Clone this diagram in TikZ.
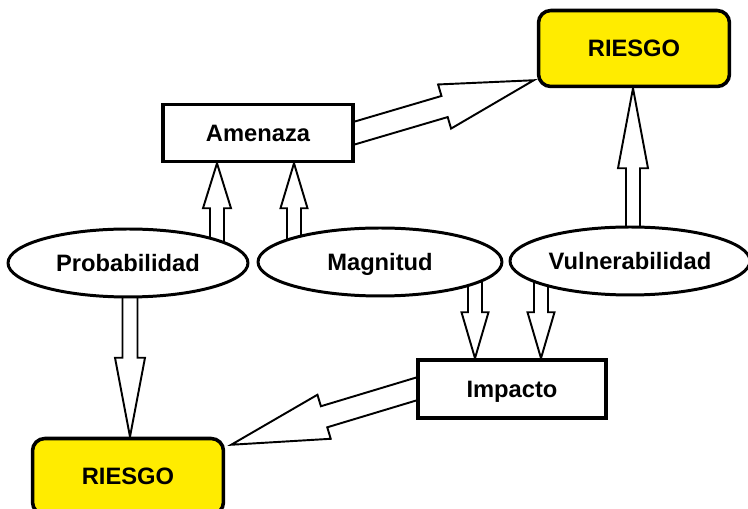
\documentclass[tikz,border=0pt]{standalone}
\usepackage{fontspec}
\setmainfont{Liberation Sans}
\usetikzlibrary{calc,backgrounds,shapes.geometric}

\definecolor{riesgoyellow}{RGB}{255,236,0}

\tikzset{
  box/.style={rectangle,draw,line width=2pt,fill=white,text height=10pt,text depth=0.5pt,font=\bfseries\fontsize{13.5pt}{16pt}\selectfont},
  riskbox/.style={box,rounded corners=7pt,fill=riesgoyellow,minimum width=3.82cm,minimum height=1.52cm},
  factor/.style={ellipse,draw,line width=1.7pt,fill=white,inner sep=0pt,minimum height=1.36cm,text height=10pt,text depth=0.5pt,font=\bfseries\fontsize{13.5pt}{16pt}\selectfont},
  hollow/.style={draw,line width=1.1pt,fill=white,line join=miter}
}

% hollow block arrow: from, to, shaft half width, head half width, head length (px)
\newcommand{\hollowarrow}[5]{%
  \coordinate (hb) at ($(#2)!#5*0.569pt!(#1)$);
  \draw[hollow] ($(#1)!#3*0.569pt!90:(#2)$) -- ($(hb)!#3*0.569pt!90:(#2)$) -- ($(hb)!#4*0.569pt!90:(#2)$) -- (#2) -- ($(hb)!#4*0.569pt!-90:(#2)$) -- ($(hb)!#3*0.569pt!-90:(#2)$) -- ($(#1)!#3*0.569pt!-90:(#2)$);
}

\begin{document}
\begin{tikzpicture}[x=0.02cm,y=-0.02cm]

    \useasboundingbox (0,0) rectangle (748,509);

    %%%%%%%%%%%%%%%%%%%%%%%%%%%%%%%%%%%%%%%%%%%%%%%%%%%%%%

    % risk (top)
    \node[riskbox] (riesgoT) at (634,48.5) {RIESGO};

    % threat
    \node[box,minimum width=3.8cm,minimum height=1.14cm] (amenaza) at (258,133) {Amenaza};

    %%%%%%%%%%%%%%%%%%%%%%%%%%%%%%%%%%%%%%%%%%%%%%%%%%%%%%

    % factors
    \node[factor,minimum width=4.8cm] (prob) at (128,263) {Probabilidad};
    \node[factor,minimum width=4.88cm] (magn) at (380,262) {Magnitud};
    \node[factor,minimum width=4.8cm] (vuln) at (630,261) {Vulnerabilidad};

    %%%%%%%%%%%%%%%%%%%%%%%%%%%%%%%%%%%%%%%%%%%%%%%%%%%%%%

    % impact
    \node[box,minimum width=3.76cm,minimum height=1.16cm] (impacto) at (512,389) {Impacto};

    % risk (bottom)
    \node[riskbox] (riesgoB) at (128,476.5) {RIESGO};

    %%%%%%%%%%%%%%%%%%%%%%%%%%%%%%%%%%%%%%%%%%%%%%%%%%%%%%

    % arrow ends
    \coordinate (probA) at ($(prob.center)+(89,0)$);
    \coordinate (probA-tip) at (amenaza.south -| probA);
    \coordinate (magnA) at ($(magn.center)+(-86,0)$);
    \coordinate (magnA-tip) at (amenaza.south -| magnA);
    \coordinate (probR) at ($(prob.center)+(2,0)$);
    \coordinate (probR-tip) at (riesgoB.north -| probR);
    \coordinate (magnI) at ($(magn.center)+(95,0)$);
    \coordinate (magnI-tip) at (impacto.north -| magnI);
    \coordinate (vulnI) at ($(vuln.center)+(-89,0)$);
    \coordinate (vulnI-tip) at (impacto.north -| vulnI);
    \coordinate (vulnR) at ($(vuln.center)+(3,0)$);
    \coordinate (vulnR-tip) at (riesgoT.south -| vulnR);
    \coordinate (amenR-tip) at ($(riesgoT.south west)+(-3,-8)$);
    \coordinate (amenR) at ($(amenaza.east)!-0.05!(amenR-tip)$);
    \coordinate (impR-tip) at ($(riesgoB.north east)+(6,8)$);
    \coordinate (impR) at ($(impacto.west)!-0.05!(impR-tip)$);

    %%%%%%%%%%%%%%%%%%%%%%%%%%%%%%%%%%%%%%%%%%%%%%%%%%%%%%

    \begin{scope}[on background layer]
    % threat to risk
    \hollowarrow{amenR}{amenR-tip}{11}{23}{93}
    % probability and magnitude to threat
    \hollowarrow{probA}{probA-tip}{7}{14}{45}
    \hollowarrow{magnA}{magnA-tip}{7}{13.5}{45}
    % probability to risk
    \hollowarrow{probR}{probR-tip}{7.5}{15}{79}
    % magnitude and vulnerability to impact
    \hollowarrow{magnI}{magnI-tip}{7}{13.5}{46}
    \hollowarrow{vulnI}{vulnI-tip}{7}{13.5}{46}
    % vulnerability to risk
    \hollowarrow{vulnR}{vulnR-tip}{7}{15}{80}
    % impact to risk
    \hollowarrow{impR}{impR-tip}{11}{23}{97}
    \end{scope}

\end{tikzpicture}
\end{document}
